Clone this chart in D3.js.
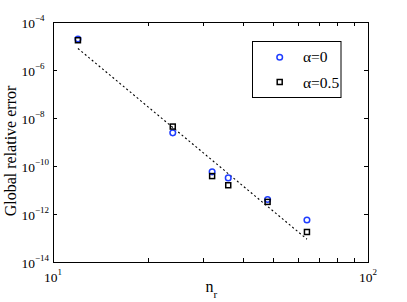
<!DOCTYPE html>
<html><head><meta charset="utf-8">
<script src="https://cdn.jsdelivr.net/npm/d3@7"></script>
<style>html,body{margin:0;padding:0;background:#fff;}svg{display:block;}</style>
</head><body>
<script>
const nr = [12, 24, 32, 36, 48, 64];
const errAlpha0 = [1.96e-5, 2.4e-9, 5.7e-11, 3.2e-11, 4.0e-12, 5.6e-13];
const errAlpha05 = [1.74e-5, 4.4e-9, 3.8e-11, 1.58e-11, 3.2e-12, 1.78e-13];
const refLineN = [12, 64];
const refLineErr = [7.9e-6, 8.9e-14];
const xTickVals = [10, 100];
const xTickExp = ["1", "2"];
const yTickVals = [1e-4, 1e-6, 1e-8, 1e-10, 1e-12, 1e-14];
const yTickExp = ["\u22124", "\u22126", "\u22128", "\u221210", "\u221212", "\u221214"];
const legendLabels = ["\u03b1=0", "\u03b1=0.5"];

const W = 407, H = 302;
const m = {left: 53, right: 368, top: 22, bottom: 262};
const font = "'Liberation Serif', 'Times New Roman', serif";

const svg = d3.select("body").append("svg").attr("width", W).attr("height", H);
const x = d3.scaleLog().domain([10, 100]).range([m.left, m.right]);
const y = d3.scaleLog().domain([1e-14, 1e-4]).range([m.bottom, m.top]);

// box
svg.append("rect").attr("x", m.left + 0.5).attr("y", m.top + 0.5)
  .attr("width", m.right - m.left).attr("height", m.bottom - m.top)
  .attr("fill", "none").attr("stroke", "#000").attr("stroke-width", 1);

// x ticks (major + minor) inward on bottom and top
const xMinor = d3.range(10, 101, 10);
const tl = 4;
xMinor.forEach(v => {
  const px = Math.round(x(v)) + 0.5;
  svg.append("line").attr("x1", px).attr("x2", px).attr("y1", m.bottom).attr("y2", m.bottom - tl).attr("stroke", "#000");
  svg.append("line").attr("x1", px).attr("x2", px).attr("y1", m.top).attr("y2", m.top + tl).attr("stroke", "#000");
});
yTickVals.forEach(v => {
  const py = Math.round(y(v)) + 0.5;
  svg.append("line").attr("x1", m.left).attr("x2", m.left + tl).attr("y1", py).attr("y2", py).attr("stroke", "#000");
  svg.append("line").attr("x1", m.right).attr("x2", m.right - tl).attr("y1", py).attr("y2", py).attr("stroke", "#000");
});

// x tick labels
xTickVals.forEach((v, i) => {
  const t = svg.append("text").attr("x", x(v) - 9).attr("y", 282)
    .attr("font-family", font).attr("font-size", 13.5).attr("fill", "#000");
  t.append("tspan").text("10");
  t.append("tspan").attr("font-size", 9).attr("dy", -7).text(xTickExp[i]);
});
// y tick labels
yTickVals.forEach((v, i) => {
  const t = svg.append("text").attr("x", 21.5).attr("y", y(v) + 5.5)
    .attr("font-family", font).attr("font-size", 13.5).attr("fill", "#000");
  t.append("tspan").text("10");
  t.append("tspan").attr("font-size", 9).attr("dy", -7).text(yTickExp[i]);
});

// axis labels
const xl = svg.append("text").attr("x", 205.5).attr("y", 292)
  .attr("font-family", font).attr("font-size", 16).attr("fill", "#000");
xl.append("tspan").text("n");
xl.append("tspan").attr("font-size", 11).attr("dy", 6).text("r");

svg.append("text").attr("transform", `translate(16,151) rotate(-90)`)
  .attr("text-anchor", "middle").attr("font-family", font).attr("font-size", 16)
  .attr("fill", "#000").text("Global relative error");

// reference dashed line
svg.append("path")
  .datum(refLineN.map((n, i) => [n, refLineErr[i]]))
  .attr("d", d3.line().x(d => x(d[0])).y(d => y(d[1])))
  .attr("fill", "none").attr("stroke", "#000").attr("stroke-width", 1.1)
  .attr("stroke-dasharray", "2,2.5");

// markers
const blue = "#1f3dff";
svg.selectAll("circle.a0").data(nr.map((n, i) => [n, errAlpha0[i]])).enter()
  .append("circle").attr("class", "a0")
  .attr("cx", d => x(d[0])).attr("cy", d => y(d[1])).attr("r", 2.8)
  .attr("fill", "none").attr("stroke", blue).attr("stroke-width", 1.5);
const s = 5;
svg.selectAll("rect.a05").data(nr.map((n, i) => [n, errAlpha05[i]])).enter()
  .append("rect").attr("class", "a05")
  .attr("x", d => x(d[0]) - s / 2).attr("y", d => y(d[1]) - s / 2)
  .attr("width", s).attr("height", s)
  .attr("fill", "none").attr("stroke", "#000").attr("stroke-width", 1.5);

// legend
svg.append("rect").attr("x", 252.5).attr("y", 41.5).attr("width", 88.5).attr("height", 56)
  .attr("fill", "#fff").attr("stroke", "#000").attr("stroke-width", 1);
svg.append("circle").attr("cx", 279.7).attr("cy", 57.3).attr("r", 2.8)
  .attr("fill", "none").attr("stroke", blue).attr("stroke-width", 1.5);
svg.append("rect").attr("x", 279.7 - s / 2).attr("y", 82 - s / 2).attr("width", s).attr("height", s)
  .attr("fill", "none").attr("stroke", "#000").attr("stroke-width", 1.5);
legendLabels.forEach((l, i) => {
  svg.append("text").attr("x", 303).attr("y", 62 + i * 25.5)
    .attr("font-family", font).attr("font-size", 15.5).attr("fill", "#000").text(l);
});
</script>
</body></html>
